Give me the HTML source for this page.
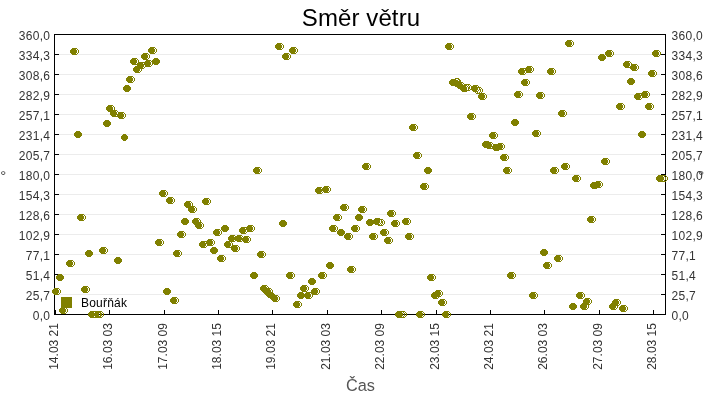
<!DOCTYPE html>
<html lang="cs"><head><meta charset="utf-8"><title>Směr větru</title>
<style>html,body{margin:0;padding:0;background:#fff}svg{display:block}text{font-family:"Liberation Sans",Arial,sans-serif}</style>
</head><body>
<svg width="720" height="400" viewBox="0 0 720 400">
<rect x="0" y="0" width="720" height="400" fill="#fff"/>
<text x="361" y="26" font-size="24" text-anchor="middle" fill="#000" letter-spacing="0.1">Směr větru</text>
<g stroke="#ececec" stroke-width="1" shape-rendering="crispEdges">
<line x1="55" y1="54.5" x2="660" y2="54.5"/>
<line x1="55" y1="74.5" x2="660" y2="74.5"/>
<line x1="55" y1="94.5" x2="660" y2="94.5"/>
<line x1="55" y1="114.5" x2="660" y2="114.5"/>
<line x1="55" y1="134.5" x2="660" y2="134.5"/>
<line x1="55" y1="154.5" x2="660" y2="154.5"/>
<line x1="55" y1="174.5" x2="660" y2="174.5"/>
<line x1="55" y1="194.5" x2="660" y2="194.5"/>
<line x1="55" y1="214.5" x2="660" y2="214.5"/>
<line x1="55" y1="234.5" x2="660" y2="234.5"/>
<line x1="55" y1="254.5" x2="660" y2="254.5"/>
<line x1="55" y1="274.5" x2="660" y2="274.5"/>
<line x1="55" y1="294.5" x2="660" y2="294.5"/>
</g>
<g stroke="#000" stroke-width="1" shape-rendering="crispEdges" fill="none">
<path d="M54.5 34 V315 M665.5 34 V315 M54 34.5 H666 M54 314.5 H666"/>
<path d="M55 34.5 H59 M661 34.5 H665"/>
<path d="M55 54.5 H59 M661 54.5 H665"/>
<path d="M55 74.5 H59 M661 74.5 H665"/>
<path d="M55 94.5 H59 M661 94.5 H665"/>
<path d="M55 114.5 H59 M661 114.5 H665"/>
<path d="M55 134.5 H59 M661 134.5 H665"/>
<path d="M55 154.5 H59 M661 154.5 H665"/>
<path d="M55 174.5 H59 M661 174.5 H665"/>
<path d="M55 194.5 H59 M661 194.5 H665"/>
<path d="M55 214.5 H59 M661 214.5 H665"/>
<path d="M55 234.5 H59 M661 234.5 H665"/>
<path d="M55 254.5 H59 M661 254.5 H665"/>
<path d="M55 274.5 H59 M661 274.5 H665"/>
<path d="M55 294.5 H59 M661 294.5 H665"/>
<path d="M55 314.5 H59 M661 314.5 H665"/>
<path d="M55.5 310 V314"/>
<path d="M109.5 310 V314"/>
<path d="M164.5 310 V314"/>
<path d="M218.5 310 V314"/>
<path d="M272.5 310 V314"/>
<path d="M327.5 310 V314"/>
<path d="M381.5 310 V314"/>
<path d="M436.5 310 V314"/>
<path d="M490.5 310 V314"/>
<path d="M544.5 310 V314"/>
<path d="M599.5 310 V314"/>
<path d="M653.5 310 V314"/>
</g>
<g font-size="12" fill="#333" letter-spacing="0.3">
<text x="50.3" y="40.0" text-anchor="end">360,0</text>
<text x="671.5" y="40.0">360,0</text>
<text x="50.3" y="60.0" text-anchor="end">334,3</text>
<text x="671.5" y="60.0">334,3</text>
<text x="50.3" y="80.0" text-anchor="end">308,6</text>
<text x="671.5" y="80.0">308,6</text>
<text x="50.3" y="100.0" text-anchor="end">282,9</text>
<text x="671.5" y="100.0">282,9</text>
<text x="50.3" y="120.0" text-anchor="end">257,1</text>
<text x="671.5" y="120.0">257,1</text>
<text x="50.3" y="140.0" text-anchor="end">231,4</text>
<text x="671.5" y="140.0">231,4</text>
<text x="50.3" y="160.0" text-anchor="end">205,7</text>
<text x="671.5" y="160.0">205,7</text>
<text x="50.3" y="180.0" text-anchor="end">180,0</text>
<text x="671.5" y="180.0">180,0</text>
<text x="50.3" y="200.0" text-anchor="end">154,3</text>
<text x="671.5" y="200.0">154,3</text>
<text x="50.3" y="220.0" text-anchor="end">128,6</text>
<text x="671.5" y="220.0">128,6</text>
<text x="50.3" y="240.0" text-anchor="end">102,9</text>
<text x="671.5" y="240.0">102,9</text>
<text x="50.3" y="260.0" text-anchor="end">77,1</text>
<text x="671.5" y="260.0">77,1</text>
<text x="50.3" y="280.0" text-anchor="end">51,4</text>
<text x="671.5" y="280.0">51,4</text>
<text x="50.3" y="300.0" text-anchor="end">25,7</text>
<text x="671.5" y="300.0">25,7</text>
<text x="50.3" y="320.0" text-anchor="end">0,0</text>
<text x="671.5" y="320.0">0,0</text>
</g>
<g font-size="12" fill="#333">
<text transform="translate(58.1,369.8) rotate(-90)">14.03 21</text>
<text transform="translate(112.1,369.8) rotate(-90)">16.03 03</text>
<text transform="translate(167.1,369.8) rotate(-90)">17.03 09</text>
<text transform="translate(221.1,369.8) rotate(-90)">18.03 15</text>
<text transform="translate(275.1,369.8) rotate(-90)">19.03 21</text>
<text transform="translate(330.1,369.8) rotate(-90)">21.03 03</text>
<text transform="translate(384.1,369.8) rotate(-90)">22.03 09</text>
<text transform="translate(439.1,369.8) rotate(-90)">23.03 15</text>
<text transform="translate(493.1,369.8) rotate(-90)">24.03 21</text>
<text transform="translate(547.1,369.8) rotate(-90)">26.03 03</text>
<text transform="translate(602.1,369.8) rotate(-90)">27.03 09</text>
<text transform="translate(656.1,369.8) rotate(-90)">28.03 15</text>
</g>
<text x="360.5" y="390.8" font-size="16.3" text-anchor="middle" fill="#555">Čas</text>
<text x="0.3" y="180.6" font-size="15" fill="#444">°</text>
<text x="698.3" y="180.6" font-size="15" fill="#444">°</text>
<rect x="61" y="297" width="11" height="11" fill="#808000"/>
<text x="81" y="306.5" font-size="12" fill="#000" letter-spacing="0.2">Bouřňák</text>
<g fill="#808000" shape-rendering="crispEdges">
<defs><path id="f" d="M2 0h3v1h1v1h1v3h-1v1h-1v1h-3v-1h-1v-1h-1v-3h1v-1h1z"/>
<path id="r" fill-rule="evenodd" d="M2 0h3v1h1v1h1v3h-1v1h-1v1h-3v-1h-1v-1h-1v-3h1v-1h1zM2 1v1h-1v3h1v1h3v-1h1v-3h-1v-1z"/></defs>
<use href="#r" x="54" y="288"/>
<use href="#r" x="57" y="274"/>
<use href="#r" x="61" y="307"/>
<use href="#r" x="68" y="260"/>
<use href="#r" x="72" y="48"/>
<use href="#r" x="75" y="131"/>
<use href="#r" x="79" y="214"/>
<use href="#r" x="83" y="286"/>
<use href="#r" x="86" y="250"/>
<use href="#r" x="90" y="311"/>
<use href="#r" x="92" y="311"/>
<use href="#r" x="94" y="311"/>
<use href="#r" x="95" y="311"/>
<use href="#r" x="97" y="311"/>
<use href="#r" x="101" y="247"/>
<use href="#r" x="104" y="120"/>
<use href="#r" x="108" y="105"/>
<use href="#r" x="112" y="110"/>
<use href="#r" x="115" y="257"/>
<use href="#r" x="119" y="112"/>
<use href="#r" x="124" y="85"/>
<use href="#r" x="128" y="76"/>
<use href="#r" x="132" y="58"/>
<use href="#r" x="135" y="66"/>
<use href="#r" x="139" y="62"/>
<use href="#r" x="143" y="53"/>
<use href="#r" x="146" y="60"/>
<use href="#r" x="150" y="47"/>
<use href="#r" x="153" y="58"/>
<use href="#r" x="157" y="239"/>
<use href="#r" x="161" y="190"/>
<use href="#r" x="164" y="288"/>
<use href="#r" x="168" y="197"/>
<use href="#r" x="172" y="297"/>
<use href="#r" x="175" y="250"/>
<use href="#r" x="179" y="231"/>
<use href="#r" x="182" y="218"/>
<use href="#r" x="186" y="201"/>
<use href="#r" x="190" y="206"/>
<use href="#r" x="194" y="218"/>
<use href="#r" x="197" y="222"/>
<use href="#r" x="201" y="241"/>
<use href="#r" x="204" y="198"/>
<use href="#r" x="208" y="239"/>
<use href="#r" x="211" y="247"/>
<use href="#r" x="215" y="229"/>
<use href="#r" x="219" y="255"/>
<use href="#r" x="222" y="225"/>
<use href="#r" x="226" y="241"/>
<use href="#r" x="230" y="235"/>
<use href="#r" x="233" y="245"/>
<use href="#r" x="237" y="235"/>
<use href="#r" x="241" y="227"/>
<use href="#r" x="244" y="236"/>
<use href="#r" x="248" y="225"/>
<use href="#r" x="251" y="272"/>
<use href="#r" x="255" y="167"/>
<use href="#r" x="259" y="251"/>
<use href="#r" x="262" y="285"/>
<use href="#r" x="266" y="288"/>
<use href="#r" x="273" y="295"/>
<use href="#r" x="277" y="43"/>
<use href="#r" x="280" y="220"/>
<use href="#r" x="284" y="53"/>
<use href="#r" x="288" y="272"/>
<use href="#r" x="291" y="47"/>
<use href="#r" x="295" y="301"/>
<use href="#r" x="298" y="292"/>
<use href="#r" x="302" y="285"/>
<use href="#r" x="306" y="292"/>
<use href="#r" x="309" y="278"/>
<use href="#r" x="313" y="288"/>
<use href="#r" x="317" y="187"/>
<use href="#r" x="320" y="272"/>
<use href="#r" x="324" y="186"/>
<use href="#r" x="327" y="262"/>
<use href="#r" x="331" y="225"/>
<use href="#r" x="335" y="214"/>
<use href="#r" x="338" y="229"/>
<use href="#r" x="342" y="204"/>
<use href="#r" x="346" y="233"/>
<use href="#r" x="349" y="266"/>
<use href="#r" x="353" y="225"/>
<use href="#r" x="356" y="214"/>
<use href="#r" x="360" y="206"/>
<use href="#r" x="364" y="163"/>
<use href="#r" x="367" y="219"/>
<use href="#r" x="371" y="233"/>
<use href="#r" x="375" y="218"/>
<use href="#r" x="376" y="219"/>
<use href="#r" x="378" y="219"/>
<use href="#r" x="382" y="229"/>
<use href="#r" x="386" y="237"/>
<use href="#r" x="389" y="210"/>
<use href="#r" x="393" y="220"/>
<use href="#r" x="396" y="311"/>
<use href="#r" x="398" y="311"/>
<use href="#r" x="400" y="311"/>
<use href="#r" x="404" y="218"/>
<use href="#r" x="407" y="233"/>
<use href="#r" x="411" y="124"/>
<use href="#r" x="415" y="152"/>
<use href="#r" x="418" y="311"/>
<use href="#r" x="422" y="183"/>
<use href="#r" x="425" y="167"/>
<use href="#r" x="429" y="274"/>
<use href="#r" x="433" y="292"/>
<use href="#r" x="436" y="290"/>
<use href="#r" x="440" y="299"/>
<use href="#r" x="444" y="311"/>
<use href="#r" x="447" y="43"/>
<use href="#r" x="453" y="78"/>
<use href="#r" x="454" y="78"/>
<use href="#r" x="458" y="82"/>
<use href="#r" x="462" y="85"/>
<use href="#r" x="463" y="84"/>
<use href="#r" x="465" y="84"/>
<use href="#r" x="469" y="113"/>
<use href="#r" x="473" y="85"/>
<use href="#r" x="474" y="87"/>
<use href="#r" x="476" y="87"/>
<use href="#r" x="480" y="93"/>
<use href="#r" x="484" y="141"/>
<use href="#r" x="487" y="142"/>
<use href="#r" x="491" y="132"/>
<use href="#r" x="494" y="144"/>
<use href="#r" x="498" y="143"/>
<use href="#r" x="502" y="154"/>
<use href="#r" x="505" y="167"/>
<use href="#r" x="509" y="272"/>
<use href="#r" x="512" y="119"/>
<use href="#r" x="516" y="91"/>
<use href="#r" x="520" y="68"/>
<use href="#r" x="523" y="79"/>
<use href="#r" x="527" y="66"/>
<use href="#r" x="531" y="292"/>
<use href="#r" x="534" y="130"/>
<use href="#r" x="538" y="92"/>
<use href="#r" x="541" y="249"/>
<use href="#r" x="545" y="262"/>
<use href="#r" x="549" y="68"/>
<use href="#r" x="552" y="167"/>
<use href="#r" x="556" y="255"/>
<use href="#r" x="560" y="110"/>
<use href="#r" x="563" y="163"/>
<use href="#r" x="567" y="40"/>
<use href="#r" x="570" y="303"/>
<use href="#r" x="574" y="175"/>
<use href="#r" x="578" y="292"/>
<use href="#r" x="582" y="303"/>
<use href="#r" x="585" y="298"/>
<use href="#r" x="589" y="216"/>
<use href="#r" x="592" y="182"/>
<use href="#r" x="596" y="181"/>
<use href="#r" x="599" y="54"/>
<use href="#r" x="603" y="158"/>
<use href="#r" x="607" y="50"/>
<use href="#r" x="611" y="303"/>
<use href="#r" x="614" y="299"/>
<use href="#r" x="618" y="103"/>
<use href="#r" x="621" y="305"/>
<use href="#r" x="625" y="61"/>
<use href="#r" x="628" y="78"/>
<use href="#r" x="632" y="64"/>
<use href="#r" x="636" y="93"/>
<use href="#r" x="639" y="131"/>
<use href="#r" x="643" y="91"/>
<use href="#r" x="647" y="103"/>
<use href="#r" x="650" y="70"/>
<use href="#r" x="654" y="50"/>
<use href="#r" x="657" y="175"/>
<use href="#r" x="659" y="175"/>
<use href="#r" x="661" y="175"/>
<use href="#f" x="52" y="288"/>
<use href="#f" x="56" y="274"/>
<use href="#f" x="59" y="307"/>
<use href="#f" x="66" y="260"/>
<use href="#f" x="70" y="48"/>
<use href="#f" x="74" y="131"/>
<use href="#f" x="77" y="214"/>
<use href="#f" x="81" y="286"/>
<use href="#f" x="85" y="250"/>
<use href="#f" x="88" y="311"/>
<use href="#f" x="99" y="247"/>
<use href="#f" x="103" y="120"/>
<use href="#f" x="106" y="105"/>
<use href="#f" x="110" y="110"/>
<use href="#f" x="114" y="257"/>
<use href="#f" x="117" y="112"/>
<use href="#f" x="121" y="134"/>
<use href="#f" x="123" y="85"/>
<use href="#f" x="126" y="76"/>
<use href="#f" x="130" y="58"/>
<use href="#f" x="133" y="66"/>
<use href="#f" x="137" y="62"/>
<use href="#f" x="141" y="53"/>
<use href="#f" x="144" y="60"/>
<use href="#f" x="148" y="47"/>
<use href="#f" x="152" y="58"/>
<use href="#f" x="155" y="239"/>
<use href="#f" x="159" y="190"/>
<use href="#f" x="163" y="288"/>
<use href="#f" x="166" y="197"/>
<use href="#f" x="170" y="297"/>
<use href="#f" x="173" y="250"/>
<use href="#f" x="177" y="231"/>
<use href="#f" x="181" y="218"/>
<use href="#f" x="184" y="201"/>
<use href="#f" x="188" y="206"/>
<use href="#f" x="192" y="218"/>
<use href="#f" x="195" y="222"/>
<use href="#f" x="199" y="241"/>
<use href="#f" x="202" y="198"/>
<use href="#f" x="206" y="239"/>
<use href="#f" x="210" y="247"/>
<use href="#f" x="213" y="229"/>
<use href="#f" x="217" y="255"/>
<use href="#f" x="221" y="225"/>
<use href="#f" x="224" y="241"/>
<use href="#f" x="228" y="235"/>
<use href="#f" x="231" y="245"/>
<use href="#f" x="235" y="235"/>
<use href="#f" x="239" y="227"/>
<use href="#f" x="242" y="236"/>
<use href="#f" x="246" y="225"/>
<use href="#f" x="250" y="272"/>
<use href="#f" x="253" y="167"/>
<use href="#f" x="257" y="251"/>
<use href="#f" x="260" y="285"/>
<use href="#f" x="262" y="287"/>
<use href="#f" x="264" y="288"/>
<use href="#f" x="265" y="290"/>
<use href="#f" x="266" y="291"/>
<use href="#f" x="268" y="292"/>
<use href="#f" x="269" y="293"/>
<use href="#f" x="270" y="294"/>
<use href="#f" x="271" y="295"/>
<use href="#f" x="275" y="43"/>
<use href="#f" x="279" y="220"/>
<use href="#f" x="282" y="53"/>
<use href="#f" x="286" y="272"/>
<use href="#f" x="289" y="47"/>
<use href="#f" x="293" y="301"/>
<use href="#f" x="297" y="292"/>
<use href="#f" x="300" y="285"/>
<use href="#f" x="304" y="292"/>
<use href="#f" x="308" y="278"/>
<use href="#f" x="311" y="288"/>
<use href="#f" x="315" y="187"/>
<use href="#f" x="318" y="272"/>
<use href="#f" x="322" y="186"/>
<use href="#f" x="326" y="262"/>
<use href="#f" x="329" y="225"/>
<use href="#f" x="333" y="214"/>
<use href="#f" x="337" y="229"/>
<use href="#f" x="340" y="204"/>
<use href="#f" x="344" y="233"/>
<use href="#f" x="347" y="266"/>
<use href="#f" x="351" y="225"/>
<use href="#f" x="355" y="214"/>
<use href="#f" x="358" y="206"/>
<use href="#f" x="362" y="163"/>
<use href="#f" x="366" y="219"/>
<use href="#f" x="369" y="233"/>
<use href="#f" x="373" y="218"/>
<use href="#f" x="380" y="229"/>
<use href="#f" x="384" y="237"/>
<use href="#f" x="387" y="210"/>
<use href="#f" x="391" y="220"/>
<use href="#f" x="395" y="311"/>
<use href="#f" x="402" y="218"/>
<use href="#f" x="405" y="233"/>
<use href="#f" x="409" y="124"/>
<use href="#f" x="413" y="152"/>
<use href="#f" x="416" y="311"/>
<use href="#f" x="420" y="183"/>
<use href="#f" x="424" y="167"/>
<use href="#f" x="427" y="274"/>
<use href="#f" x="431" y="292"/>
<use href="#f" x="434" y="290"/>
<use href="#f" x="438" y="299"/>
<use href="#f" x="442" y="311"/>
<use href="#f" x="445" y="43"/>
<use href="#f" x="449" y="79"/>
<use href="#f" x="453" y="80"/>
<use href="#f" x="456" y="82"/>
<use href="#f" x="460" y="85"/>
<use href="#f" x="467" y="113"/>
<use href="#f" x="471" y="85"/>
<use href="#f" x="478" y="93"/>
<use href="#f" x="482" y="141"/>
<use href="#f" x="485" y="142"/>
<use href="#f" x="489" y="132"/>
<use href="#f" x="492" y="144"/>
<use href="#f" x="496" y="143"/>
<use href="#f" x="500" y="154"/>
<use href="#f" x="503" y="167"/>
<use href="#f" x="507" y="272"/>
<use href="#f" x="511" y="119"/>
<use href="#f" x="514" y="91"/>
<use href="#f" x="518" y="68"/>
<use href="#f" x="521" y="79"/>
<use href="#f" x="525" y="66"/>
<use href="#f" x="529" y="292"/>
<use href="#f" x="532" y="130"/>
<use href="#f" x="536" y="92"/>
<use href="#f" x="540" y="249"/>
<use href="#f" x="543" y="262"/>
<use href="#f" x="547" y="68"/>
<use href="#f" x="550" y="167"/>
<use href="#f" x="554" y="255"/>
<use href="#f" x="558" y="110"/>
<use href="#f" x="561" y="163"/>
<use href="#f" x="565" y="40"/>
<use href="#f" x="569" y="303"/>
<use href="#f" x="572" y="175"/>
<use href="#f" x="576" y="292"/>
<use href="#f" x="580" y="303"/>
<use href="#f" x="583" y="298"/>
<use href="#f" x="587" y="216"/>
<use href="#f" x="590" y="182"/>
<use href="#f" x="594" y="181"/>
<use href="#f" x="598" y="54"/>
<use href="#f" x="601" y="158"/>
<use href="#f" x="605" y="50"/>
<use href="#f" x="609" y="303"/>
<use href="#f" x="612" y="299"/>
<use href="#f" x="616" y="103"/>
<use href="#f" x="619" y="305"/>
<use href="#f" x="623" y="61"/>
<use href="#f" x="627" y="78"/>
<use href="#f" x="630" y="64"/>
<use href="#f" x="634" y="93"/>
<use href="#f" x="638" y="131"/>
<use href="#f" x="641" y="91"/>
<use href="#f" x="645" y="103"/>
<use href="#f" x="648" y="70"/>
<use href="#f" x="652" y="50"/>
<use href="#f" x="656" y="175"/>
</g>
</svg>
</body></html>
